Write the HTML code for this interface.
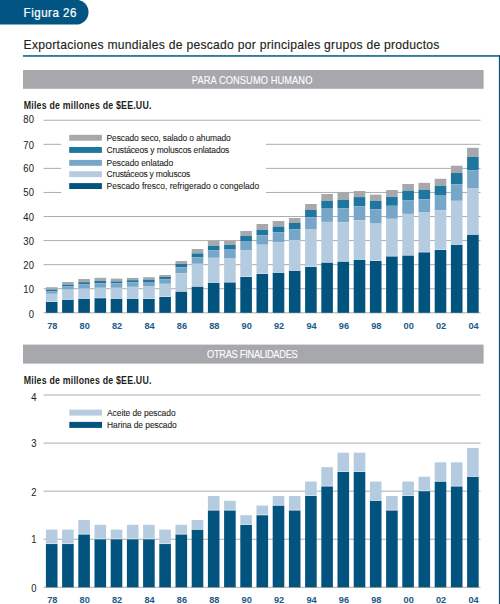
<!DOCTYPE html>
<html><head><meta charset="utf-8"><style>
html,body{margin:0;padding:0;background:#fff;width:500px;height:604px;overflow:hidden}
svg{display:block;font-family:"Liberation Sans",sans-serif}
</style></head><body>
<svg width="500" height="604" viewBox="0 0 500 604">
<rect x="-20" y="-0.3" width="108.5" height="24.9" rx="12.45" ry="12.45" fill="#025583"/>
<text transform="translate(23.6,16.6) scale(0.9,1)" x="0" y="0" font-size="12.8" fill="#ffffff" text-anchor="start" font-weight="normal" textLength="58.67" lengthAdjust="spacing" stroke="#ffffff" stroke-width="0.25">Figura 26</text>
<text transform="translate(23.6,49.4) scale(0.95,1)" x="0" y="0" font-size="12.8" fill="#231f20" text-anchor="start" font-weight="normal" textLength="437.68" lengthAdjust="spacing" stroke="#231f20" stroke-width="0.15">Exportaciones mundiales de pescado por principales grupos de productos</text>
<rect x="23.00" y="55.10" width="477.00" height="1.70" fill="#226a98"/>
<rect x="498.90" y="55.10" width="1.20" height="549.00" fill="#00507f"/>
<rect x="23.00" y="70.00" width="460.60" height="18.80" fill="#a6a8ab"/>
<text transform="translate(191.8,83.6) scale(0.93,1)" x="0" y="0" font-size="10" fill="#ffffff" text-anchor="start" font-weight="normal" textLength="129.68" lengthAdjust="spacing" stroke="#ffffff" stroke-width="0.1">PARA CONSUMO HUMANO</text>
<rect x="23.00" y="344.60" width="460.60" height="19.00" fill="#a6a8ab"/>
<text transform="translate(207.0,358.0) scale(0.93,1)" x="0" y="0" font-size="10" fill="#ffffff" text-anchor="start" font-weight="normal" textLength="97.63" lengthAdjust="spacing" stroke="#ffffff" stroke-width="0.1">OTRAS FINALIDADES</text>
<text transform="translate(23.8,109.2) scale(0.88,1)" x="0" y="0" font-size="10" fill="#231f20" text-anchor="start" font-weight="bold" textLength="145.00" lengthAdjust="spacing">Miles de millones de $EE.UU.</text>
<text transform="translate(23.8,383.8) scale(0.88,1)" x="0" y="0" font-size="10" fill="#231f20" text-anchor="start" font-weight="bold" textLength="145.00" lengthAdjust="spacing">Miles de millones de $EE.UU.</text>
<rect x="43.50" y="312.30" width="437.00" height="1.00" fill="#adadad"/>
<text transform="translate(33.9,317.70) scale(0.93,1)" font-size="10.2" fill="#231f20" text-anchor="end" stroke="#231f20" stroke-width="0.05">0</text>
<rect x="43.50" y="288.23" width="437.00" height="1.00" fill="#adadad"/>
<text transform="translate(33.9,292.85) scale(0.93,1)" font-size="10.2" fill="#231f20" text-anchor="end" stroke="#231f20" stroke-width="0.05">10</text>
<rect x="43.50" y="264.16" width="437.00" height="1.00" fill="#adadad"/>
<text transform="translate(33.9,269.00) scale(0.93,1)" font-size="10.2" fill="#231f20" text-anchor="end" stroke="#231f20" stroke-width="0.05">20</text>
<rect x="43.50" y="240.09" width="437.00" height="1.00" fill="#adadad"/>
<text transform="translate(33.9,244.90) scale(0.93,1)" font-size="10.2" fill="#231f20" text-anchor="end" stroke="#231f20" stroke-width="0.05">30</text>
<rect x="43.50" y="216.02" width="437.00" height="1.00" fill="#adadad"/>
<text transform="translate(33.9,221.10) scale(0.93,1)" font-size="10.2" fill="#231f20" text-anchor="end" stroke="#231f20" stroke-width="0.05">40</text>
<rect x="43.50" y="191.95" width="17.70" height="1.00" fill="#adadad"/>
<rect x="266.00" y="191.95" width="214.50" height="1.00" fill="#adadad"/>
<text transform="translate(33.9,195.80) scale(0.93,1)" font-size="10.2" fill="#231f20" text-anchor="end" stroke="#231f20" stroke-width="0.05">50</text>
<rect x="43.50" y="167.88" width="17.70" height="1.00" fill="#adadad"/>
<rect x="266.00" y="167.88" width="214.50" height="1.00" fill="#adadad"/>
<text transform="translate(33.9,172.40) scale(0.93,1)" font-size="10.2" fill="#231f20" text-anchor="end" stroke="#231f20" stroke-width="0.05">60</text>
<rect x="43.50" y="143.81" width="17.70" height="1.00" fill="#adadad"/>
<rect x="266.00" y="143.81" width="214.50" height="1.00" fill="#adadad"/>
<text transform="translate(33.9,148.80) scale(0.93,1)" font-size="10.2" fill="#231f20" text-anchor="end" stroke="#231f20" stroke-width="0.05">70</text>
<rect x="43.50" y="119.74" width="437.00" height="1.00" fill="#adadad"/>
<text transform="translate(33.9,123.00) scale(0.93,1)" font-size="10.2" fill="#231f20" text-anchor="end" stroke="#231f20" stroke-width="0.05">80</text>
<rect x="43.50" y="586.80" width="437.00" height="1.00" fill="#adadad"/>
<text transform="translate(36.6,592.30) scale(0.93,1)" font-size="10.2" fill="#231f20" text-anchor="end" stroke="#231f20" stroke-width="0.05">0</text>
<rect x="43.50" y="538.73" width="437.00" height="1.00" fill="#adadad"/>
<text transform="translate(36.6,543.10) scale(0.93,1)" font-size="10.2" fill="#231f20" text-anchor="end" stroke="#231f20" stroke-width="0.05">1</text>
<rect x="43.50" y="490.66" width="437.00" height="1.00" fill="#adadad"/>
<text transform="translate(36.6,495.70) scale(0.93,1)" font-size="10.2" fill="#231f20" text-anchor="end" stroke="#231f20" stroke-width="0.05">2</text>
<rect x="43.50" y="442.59" width="437.00" height="1.00" fill="#adadad"/>
<text transform="translate(36.6,447.30) scale(0.93,1)" font-size="10.2" fill="#231f20" text-anchor="end" stroke="#231f20" stroke-width="0.05">3</text>
<rect x="43.50" y="394.52" width="437.00" height="1.00" fill="#adadad"/>
<text transform="translate(36.6,400.60) scale(0.93,1)" font-size="10.2" fill="#231f20" text-anchor="end" stroke="#231f20" stroke-width="0.05">4</text>
<rect x="45.90" y="287.20" width="11.60" height="2.40" fill="#a7a8ab"/>
<rect x="45.90" y="289.60" width="11.60" height="1.80" fill="#1f779f"/>
<rect x="45.90" y="291.40" width="11.60" height="2.40" fill="#78a6c8"/>
<rect x="45.90" y="293.80" width="11.60" height="8.20" fill="#b5cbe0"/>
<rect x="45.90" y="302.00" width="11.60" height="10.80" fill="#03537f"/>
<rect x="45.90" y="301.40" width="11.60" height="0.6" fill="#ffffff" fill-opacity="0.5"/>
<text transform="translate(52.30,329.0) scale(0.93,1)" font-size="9.9" fill="#1a5a8a" text-anchor="middle" font-weight="bold">78</text>
<rect x="62.10" y="282.00" width="11.60" height="2.60" fill="#a7a8ab"/>
<rect x="62.10" y="284.60" width="11.60" height="1.80" fill="#1f779f"/>
<rect x="62.10" y="286.40" width="11.60" height="3.20" fill="#78a6c8"/>
<rect x="62.10" y="289.60" width="11.60" height="10.20" fill="#b5cbe0"/>
<rect x="62.10" y="299.80" width="11.60" height="13.00" fill="#03537f"/>
<rect x="62.10" y="299.20" width="11.60" height="0.6" fill="#ffffff" fill-opacity="0.5"/>
<rect x="78.30" y="279.00" width="11.60" height="3.20" fill="#a7a8ab"/>
<rect x="78.30" y="282.20" width="11.60" height="2.10" fill="#1f779f"/>
<rect x="78.30" y="284.30" width="11.60" height="4.30" fill="#78a6c8"/>
<rect x="78.30" y="288.60" width="11.60" height="10.20" fill="#b5cbe0"/>
<rect x="78.30" y="298.80" width="11.60" height="14.00" fill="#03537f"/>
<rect x="78.30" y="298.20" width="11.60" height="0.6" fill="#ffffff" fill-opacity="0.5"/>
<text transform="translate(84.70,329.0) scale(0.93,1)" font-size="9.9" fill="#1a5a8a" text-anchor="middle" font-weight="bold">80</text>
<rect x="94.50" y="277.80" width="11.60" height="3.00" fill="#a7a8ab"/>
<rect x="94.50" y="280.80" width="11.60" height="2.40" fill="#1f779f"/>
<rect x="94.50" y="283.20" width="11.60" height="4.60" fill="#78a6c8"/>
<rect x="94.50" y="287.80" width="11.60" height="10.40" fill="#b5cbe0"/>
<rect x="94.50" y="298.20" width="11.60" height="14.60" fill="#03537f"/>
<rect x="94.50" y="297.60" width="11.60" height="0.6" fill="#ffffff" fill-opacity="0.5"/>
<rect x="110.70" y="278.60" width="11.60" height="2.80" fill="#a7a8ab"/>
<rect x="110.70" y="281.40" width="11.60" height="2.00" fill="#1f779f"/>
<rect x="110.70" y="283.40" width="11.60" height="4.40" fill="#78a6c8"/>
<rect x="110.70" y="287.80" width="11.60" height="11.00" fill="#b5cbe0"/>
<rect x="110.70" y="298.80" width="11.60" height="14.00" fill="#03537f"/>
<rect x="110.70" y="298.20" width="11.60" height="0.6" fill="#ffffff" fill-opacity="0.5"/>
<text transform="translate(117.10,329.0) scale(0.93,1)" font-size="9.9" fill="#1a5a8a" text-anchor="middle" font-weight="bold">82</text>
<rect x="126.90" y="277.90" width="11.60" height="2.30" fill="#a7a8ab"/>
<rect x="126.90" y="280.20" width="11.60" height="2.20" fill="#1f779f"/>
<rect x="126.90" y="282.40" width="11.60" height="4.40" fill="#78a6c8"/>
<rect x="126.90" y="286.80" width="11.60" height="12.00" fill="#b5cbe0"/>
<rect x="126.90" y="298.80" width="11.60" height="14.00" fill="#03537f"/>
<rect x="126.90" y="298.20" width="11.60" height="0.6" fill="#ffffff" fill-opacity="0.5"/>
<rect x="143.10" y="277.20" width="11.60" height="2.40" fill="#a7a8ab"/>
<rect x="143.10" y="279.60" width="11.60" height="2.40" fill="#1f779f"/>
<rect x="143.10" y="282.00" width="11.60" height="4.00" fill="#78a6c8"/>
<rect x="143.10" y="286.00" width="11.60" height="13.00" fill="#b5cbe0"/>
<rect x="143.10" y="299.00" width="11.60" height="13.80" fill="#03537f"/>
<rect x="143.10" y="298.40" width="11.60" height="0.6" fill="#ffffff" fill-opacity="0.5"/>
<text transform="translate(149.50,329.0) scale(0.93,1)" font-size="9.9" fill="#1a5a8a" text-anchor="middle" font-weight="bold">84</text>
<rect x="159.30" y="275.00" width="11.60" height="2.00" fill="#a7a8ab"/>
<rect x="159.30" y="277.00" width="11.60" height="2.40" fill="#1f779f"/>
<rect x="159.30" y="279.40" width="11.60" height="4.40" fill="#78a6c8"/>
<rect x="159.30" y="283.80" width="11.60" height="13.20" fill="#b5cbe0"/>
<rect x="159.30" y="297.00" width="11.60" height="15.80" fill="#03537f"/>
<rect x="159.30" y="296.40" width="11.60" height="0.6" fill="#ffffff" fill-opacity="0.5"/>
<rect x="175.50" y="261.00" width="11.60" height="3.00" fill="#a7a8ab"/>
<rect x="175.50" y="264.00" width="11.60" height="3.40" fill="#1f779f"/>
<rect x="175.50" y="267.40" width="11.60" height="5.80" fill="#78a6c8"/>
<rect x="175.50" y="273.20" width="11.60" height="18.40" fill="#b5cbe0"/>
<rect x="175.50" y="291.60" width="11.60" height="21.20" fill="#03537f"/>
<rect x="175.50" y="291.00" width="11.60" height="0.6" fill="#ffffff" fill-opacity="0.5"/>
<text transform="translate(181.90,329.0) scale(0.93,1)" font-size="9.9" fill="#1a5a8a" text-anchor="middle" font-weight="bold">86</text>
<rect x="191.70" y="249.00" width="11.60" height="4.40" fill="#a7a8ab"/>
<rect x="191.70" y="253.40" width="11.60" height="4.00" fill="#1f779f"/>
<rect x="191.70" y="257.40" width="11.60" height="6.40" fill="#78a6c8"/>
<rect x="191.70" y="263.80" width="11.60" height="22.80" fill="#b5cbe0"/>
<rect x="191.70" y="286.60" width="11.60" height="26.20" fill="#03537f"/>
<rect x="191.70" y="286.00" width="11.60" height="0.6" fill="#ffffff" fill-opacity="0.5"/>
<rect x="207.90" y="240.80" width="11.60" height="5.00" fill="#a7a8ab"/>
<rect x="207.90" y="245.80" width="11.60" height="4.40" fill="#1f779f"/>
<rect x="207.90" y="250.20" width="11.60" height="7.60" fill="#78a6c8"/>
<rect x="207.90" y="257.80" width="11.60" height="25.00" fill="#b5cbe0"/>
<rect x="207.90" y="282.80" width="11.60" height="30.00" fill="#03537f"/>
<rect x="207.90" y="282.20" width="11.60" height="0.6" fill="#ffffff" fill-opacity="0.5"/>
<text transform="translate(214.30,329.0) scale(0.93,1)" font-size="9.9" fill="#1a5a8a" text-anchor="middle" font-weight="bold">88</text>
<rect x="224.10" y="240.80" width="11.60" height="4.20" fill="#a7a8ab"/>
<rect x="224.10" y="245.00" width="11.60" height="4.60" fill="#1f779f"/>
<rect x="224.10" y="249.60" width="11.60" height="8.40" fill="#78a6c8"/>
<rect x="224.10" y="258.00" width="11.60" height="24.40" fill="#b5cbe0"/>
<rect x="224.10" y="282.40" width="11.60" height="30.40" fill="#03537f"/>
<rect x="224.10" y="281.80" width="11.60" height="0.6" fill="#ffffff" fill-opacity="0.5"/>
<rect x="240.30" y="231.00" width="11.60" height="4.80" fill="#a7a8ab"/>
<rect x="240.30" y="235.80" width="11.60" height="5.20" fill="#1f779f"/>
<rect x="240.30" y="241.00" width="11.60" height="9.10" fill="#78a6c8"/>
<rect x="240.30" y="250.10" width="11.60" height="26.90" fill="#b5cbe0"/>
<rect x="240.30" y="277.00" width="11.60" height="35.80" fill="#03537f"/>
<rect x="240.30" y="276.40" width="11.60" height="0.6" fill="#ffffff" fill-opacity="0.5"/>
<text transform="translate(246.70,329.0) scale(0.93,1)" font-size="9.9" fill="#1a5a8a" text-anchor="middle" font-weight="bold">90</text>
<rect x="256.50" y="224.00" width="11.60" height="5.80" fill="#a7a8ab"/>
<rect x="256.50" y="229.80" width="11.60" height="5.40" fill="#1f779f"/>
<rect x="256.50" y="235.20" width="11.60" height="9.50" fill="#78a6c8"/>
<rect x="256.50" y="244.70" width="11.60" height="29.30" fill="#b5cbe0"/>
<rect x="256.50" y="274.00" width="11.60" height="38.80" fill="#03537f"/>
<rect x="256.50" y="273.40" width="11.60" height="0.6" fill="#ffffff" fill-opacity="0.5"/>
<rect x="272.70" y="221.00" width="11.60" height="5.60" fill="#a7a8ab"/>
<rect x="272.70" y="226.60" width="11.60" height="5.60" fill="#1f779f"/>
<rect x="272.70" y="232.20" width="11.60" height="10.10" fill="#78a6c8"/>
<rect x="272.70" y="242.30" width="11.60" height="30.50" fill="#b5cbe0"/>
<rect x="272.70" y="272.80" width="11.60" height="40.00" fill="#03537f"/>
<rect x="272.70" y="272.20" width="11.60" height="0.6" fill="#ffffff" fill-opacity="0.5"/>
<text transform="translate(279.10,329.0) scale(0.93,1)" font-size="9.9" fill="#1a5a8a" text-anchor="middle" font-weight="bold">92</text>
<rect x="288.90" y="218.00" width="11.60" height="5.00" fill="#a7a8ab"/>
<rect x="288.90" y="223.00" width="11.60" height="6.20" fill="#1f779f"/>
<rect x="288.90" y="229.20" width="11.60" height="10.80" fill="#78a6c8"/>
<rect x="288.90" y="240.00" width="11.60" height="30.80" fill="#b5cbe0"/>
<rect x="288.90" y="270.80" width="11.60" height="42.00" fill="#03537f"/>
<rect x="288.90" y="270.20" width="11.60" height="0.6" fill="#ffffff" fill-opacity="0.5"/>
<rect x="305.10" y="204.00" width="11.60" height="6.00" fill="#a7a8ab"/>
<rect x="305.10" y="210.00" width="11.60" height="7.20" fill="#1f779f"/>
<rect x="305.10" y="217.20" width="11.60" height="11.80" fill="#78a6c8"/>
<rect x="305.10" y="229.00" width="11.60" height="38.00" fill="#b5cbe0"/>
<rect x="305.10" y="267.00" width="11.60" height="45.80" fill="#03537f"/>
<rect x="305.10" y="266.40" width="11.60" height="0.6" fill="#ffffff" fill-opacity="0.5"/>
<text transform="translate(311.50,329.0) scale(0.93,1)" font-size="9.9" fill="#1a5a8a" text-anchor="middle" font-weight="bold">94</text>
<rect x="321.30" y="194.00" width="11.60" height="6.80" fill="#a7a8ab"/>
<rect x="321.30" y="200.80" width="11.60" height="7.80" fill="#1f779f"/>
<rect x="321.30" y="208.60" width="11.60" height="13.30" fill="#78a6c8"/>
<rect x="321.30" y="221.90" width="11.60" height="40.70" fill="#b5cbe0"/>
<rect x="321.30" y="262.60" width="11.60" height="50.20" fill="#03537f"/>
<rect x="321.30" y="262.00" width="11.60" height="0.6" fill="#ffffff" fill-opacity="0.5"/>
<rect x="337.50" y="192.40" width="11.60" height="7.40" fill="#a7a8ab"/>
<rect x="337.50" y="199.80" width="11.60" height="8.40" fill="#1f779f"/>
<rect x="337.50" y="208.20" width="11.60" height="14.00" fill="#78a6c8"/>
<rect x="337.50" y="222.20" width="11.60" height="39.40" fill="#b5cbe0"/>
<rect x="337.50" y="261.60" width="11.60" height="51.20" fill="#03537f"/>
<rect x="337.50" y="261.00" width="11.60" height="0.6" fill="#ffffff" fill-opacity="0.5"/>
<text transform="translate(343.90,329.0) scale(0.93,1)" font-size="9.9" fill="#1a5a8a" text-anchor="middle" font-weight="bold">96</text>
<rect x="353.70" y="191.00" width="11.60" height="6.10" fill="#a7a8ab"/>
<rect x="353.70" y="197.10" width="11.60" height="9.20" fill="#1f779f"/>
<rect x="353.70" y="206.30" width="11.60" height="14.00" fill="#78a6c8"/>
<rect x="353.70" y="220.30" width="11.60" height="39.50" fill="#b5cbe0"/>
<rect x="353.70" y="259.80" width="11.60" height="53.00" fill="#03537f"/>
<rect x="353.70" y="259.20" width="11.60" height="0.6" fill="#ffffff" fill-opacity="0.5"/>
<rect x="369.90" y="194.60" width="11.60" height="6.40" fill="#a7a8ab"/>
<rect x="369.90" y="201.00" width="11.60" height="8.40" fill="#1f779f"/>
<rect x="369.90" y="209.40" width="11.60" height="14.20" fill="#78a6c8"/>
<rect x="369.90" y="223.60" width="11.60" height="37.40" fill="#b5cbe0"/>
<rect x="369.90" y="261.00" width="11.60" height="51.80" fill="#03537f"/>
<rect x="369.90" y="260.40" width="11.60" height="0.6" fill="#ffffff" fill-opacity="0.5"/>
<text transform="translate(376.30,329.0) scale(0.93,1)" font-size="9.9" fill="#1a5a8a" text-anchor="middle" font-weight="bold">98</text>
<rect x="386.10" y="190.00" width="11.60" height="7.00" fill="#a7a8ab"/>
<rect x="386.10" y="197.00" width="11.60" height="8.80" fill="#1f779f"/>
<rect x="386.10" y="205.80" width="11.60" height="13.00" fill="#78a6c8"/>
<rect x="386.10" y="218.80" width="11.60" height="37.60" fill="#b5cbe0"/>
<rect x="386.10" y="256.40" width="11.60" height="56.40" fill="#03537f"/>
<rect x="386.10" y="255.80" width="11.60" height="0.6" fill="#ffffff" fill-opacity="0.5"/>
<rect x="402.30" y="184.00" width="11.60" height="6.70" fill="#a7a8ab"/>
<rect x="402.30" y="190.70" width="11.60" height="9.80" fill="#1f779f"/>
<rect x="402.30" y="200.50" width="11.60" height="13.40" fill="#78a6c8"/>
<rect x="402.30" y="213.90" width="11.60" height="41.60" fill="#b5cbe0"/>
<rect x="402.30" y="255.50" width="11.60" height="57.30" fill="#03537f"/>
<rect x="402.30" y="254.90" width="11.60" height="0.6" fill="#ffffff" fill-opacity="0.5"/>
<text transform="translate(408.70,329.0) scale(0.93,1)" font-size="9.9" fill="#1a5a8a" text-anchor="middle" font-weight="bold">00</text>
<rect x="418.50" y="182.80" width="11.60" height="7.00" fill="#a7a8ab"/>
<rect x="418.50" y="189.80" width="11.60" height="9.40" fill="#1f779f"/>
<rect x="418.50" y="199.20" width="11.60" height="13.30" fill="#78a6c8"/>
<rect x="418.50" y="212.50" width="11.60" height="39.80" fill="#b5cbe0"/>
<rect x="418.50" y="252.30" width="11.60" height="60.50" fill="#03537f"/>
<rect x="418.50" y="251.70" width="11.60" height="0.6" fill="#ffffff" fill-opacity="0.5"/>
<rect x="434.70" y="178.80" width="11.60" height="7.00" fill="#a7a8ab"/>
<rect x="434.70" y="185.80" width="11.60" height="9.80" fill="#1f779f"/>
<rect x="434.70" y="195.60" width="11.60" height="14.70" fill="#78a6c8"/>
<rect x="434.70" y="210.30" width="11.60" height="39.70" fill="#b5cbe0"/>
<rect x="434.70" y="250.00" width="11.60" height="62.80" fill="#03537f"/>
<rect x="434.70" y="249.40" width="11.60" height="0.6" fill="#ffffff" fill-opacity="0.5"/>
<text transform="translate(441.10,329.0) scale(0.93,1)" font-size="9.9" fill="#1a5a8a" text-anchor="middle" font-weight="bold">02</text>
<rect x="450.90" y="165.70" width="11.60" height="7.30" fill="#a7a8ab"/>
<rect x="450.90" y="173.00" width="11.60" height="11.40" fill="#1f779f"/>
<rect x="450.90" y="184.40" width="11.60" height="16.40" fill="#78a6c8"/>
<rect x="450.90" y="200.80" width="11.60" height="44.00" fill="#b5cbe0"/>
<rect x="450.90" y="244.80" width="11.60" height="68.00" fill="#03537f"/>
<rect x="450.90" y="244.20" width="11.60" height="0.6" fill="#ffffff" fill-opacity="0.5"/>
<rect x="467.10" y="147.80" width="11.60" height="9.20" fill="#a7a8ab"/>
<rect x="467.10" y="157.00" width="11.60" height="13.20" fill="#1f779f"/>
<rect x="467.10" y="170.20" width="11.60" height="17.80" fill="#78a6c8"/>
<rect x="467.10" y="188.00" width="11.60" height="46.70" fill="#b5cbe0"/>
<rect x="467.10" y="234.70" width="11.60" height="78.10" fill="#03537f"/>
<rect x="467.10" y="234.10" width="11.60" height="0.6" fill="#ffffff" fill-opacity="0.5"/>
<text transform="translate(473.50,329.0) scale(0.93,1)" font-size="9.9" fill="#1a5a8a" text-anchor="middle" font-weight="bold">04</text>
<rect x="45.90" y="529.62" width="11.60" height="14.42" fill="#b5cbe0"/>
<rect x="45.90" y="544.04" width="11.60" height="43.26" fill="#03537f"/>
<rect x="45.90" y="543.34" width="11.60" height="0.7" fill="#ffffff" fill-opacity="0.6"/>
<text transform="translate(52.30,603.4) scale(0.93,1)" font-size="9.9" fill="#1a5a8a" text-anchor="middle" font-weight="bold">78</text>
<rect x="62.10" y="529.62" width="11.60" height="14.42" fill="#b5cbe0"/>
<rect x="62.10" y="544.04" width="11.60" height="43.26" fill="#03537f"/>
<rect x="62.10" y="543.34" width="11.60" height="0.7" fill="#ffffff" fill-opacity="0.6"/>
<rect x="78.30" y="520.00" width="11.60" height="14.42" fill="#b5cbe0"/>
<rect x="78.30" y="534.42" width="11.60" height="52.88" fill="#03537f"/>
<rect x="78.30" y="533.72" width="11.60" height="0.7" fill="#ffffff" fill-opacity="0.6"/>
<text transform="translate(84.70,603.4) scale(0.93,1)" font-size="9.9" fill="#1a5a8a" text-anchor="middle" font-weight="bold">80</text>
<rect x="94.50" y="524.81" width="11.60" height="14.42" fill="#b5cbe0"/>
<rect x="94.50" y="539.23" width="11.60" height="48.07" fill="#03537f"/>
<rect x="94.50" y="538.53" width="11.60" height="0.7" fill="#ffffff" fill-opacity="0.6"/>
<rect x="110.70" y="529.62" width="11.60" height="9.61" fill="#b5cbe0"/>
<rect x="110.70" y="539.23" width="11.60" height="48.07" fill="#03537f"/>
<rect x="110.70" y="538.53" width="11.60" height="0.7" fill="#ffffff" fill-opacity="0.6"/>
<text transform="translate(117.10,603.4) scale(0.93,1)" font-size="9.9" fill="#1a5a8a" text-anchor="middle" font-weight="bold">82</text>
<rect x="126.90" y="524.81" width="11.60" height="14.42" fill="#b5cbe0"/>
<rect x="126.90" y="539.23" width="11.60" height="48.07" fill="#03537f"/>
<rect x="126.90" y="538.53" width="11.60" height="0.7" fill="#ffffff" fill-opacity="0.6"/>
<rect x="143.10" y="524.81" width="11.60" height="14.42" fill="#b5cbe0"/>
<rect x="143.10" y="539.23" width="11.60" height="48.07" fill="#03537f"/>
<rect x="143.10" y="538.53" width="11.60" height="0.7" fill="#ffffff" fill-opacity="0.6"/>
<text transform="translate(149.50,603.4) scale(0.93,1)" font-size="9.9" fill="#1a5a8a" text-anchor="middle" font-weight="bold">84</text>
<rect x="159.30" y="529.62" width="11.60" height="14.42" fill="#b5cbe0"/>
<rect x="159.30" y="544.04" width="11.60" height="43.26" fill="#03537f"/>
<rect x="159.30" y="543.34" width="11.60" height="0.7" fill="#ffffff" fill-opacity="0.6"/>
<rect x="175.50" y="524.81" width="11.60" height="9.61" fill="#b5cbe0"/>
<rect x="175.50" y="534.42" width="11.60" height="52.88" fill="#03537f"/>
<rect x="175.50" y="533.72" width="11.60" height="0.7" fill="#ffffff" fill-opacity="0.6"/>
<text transform="translate(181.90,603.4) scale(0.93,1)" font-size="9.9" fill="#1a5a8a" text-anchor="middle" font-weight="bold">86</text>
<rect x="191.70" y="520.00" width="11.60" height="9.61" fill="#b5cbe0"/>
<rect x="191.70" y="529.62" width="11.60" height="57.68" fill="#03537f"/>
<rect x="191.70" y="528.92" width="11.60" height="0.7" fill="#ffffff" fill-opacity="0.6"/>
<rect x="207.90" y="495.97" width="11.60" height="14.42" fill="#b5cbe0"/>
<rect x="207.90" y="510.39" width="11.60" height="76.91" fill="#03537f"/>
<rect x="207.90" y="509.69" width="11.60" height="0.7" fill="#ffffff" fill-opacity="0.6"/>
<text transform="translate(214.30,603.4) scale(0.93,1)" font-size="9.9" fill="#1a5a8a" text-anchor="middle" font-weight="bold">88</text>
<rect x="224.10" y="500.77" width="11.60" height="9.61" fill="#b5cbe0"/>
<rect x="224.10" y="510.39" width="11.60" height="76.91" fill="#03537f"/>
<rect x="224.10" y="509.69" width="11.60" height="0.7" fill="#ffffff" fill-opacity="0.6"/>
<rect x="240.30" y="515.19" width="11.60" height="9.61" fill="#b5cbe0"/>
<rect x="240.30" y="524.81" width="11.60" height="62.49" fill="#03537f"/>
<rect x="240.30" y="524.11" width="11.60" height="0.7" fill="#ffffff" fill-opacity="0.6"/>
<text transform="translate(246.70,603.4) scale(0.93,1)" font-size="9.9" fill="#1a5a8a" text-anchor="middle" font-weight="bold">90</text>
<rect x="256.50" y="505.58" width="11.60" height="9.61" fill="#b5cbe0"/>
<rect x="256.50" y="515.19" width="11.60" height="72.11" fill="#03537f"/>
<rect x="256.50" y="514.49" width="11.60" height="0.7" fill="#ffffff" fill-opacity="0.6"/>
<rect x="272.70" y="495.97" width="11.60" height="9.61" fill="#b5cbe0"/>
<rect x="272.70" y="505.58" width="11.60" height="81.72" fill="#03537f"/>
<rect x="272.70" y="504.88" width="11.60" height="0.7" fill="#ffffff" fill-opacity="0.6"/>
<text transform="translate(279.10,603.4) scale(0.93,1)" font-size="9.9" fill="#1a5a8a" text-anchor="middle" font-weight="bold">92</text>
<rect x="288.90" y="495.97" width="11.60" height="14.42" fill="#b5cbe0"/>
<rect x="288.90" y="510.39" width="11.60" height="76.91" fill="#03537f"/>
<rect x="288.90" y="509.69" width="11.60" height="0.7" fill="#ffffff" fill-opacity="0.6"/>
<rect x="305.10" y="481.55" width="11.60" height="14.42" fill="#b5cbe0"/>
<rect x="305.10" y="495.97" width="11.60" height="91.33" fill="#03537f"/>
<rect x="305.10" y="495.27" width="11.60" height="0.7" fill="#ffffff" fill-opacity="0.6"/>
<text transform="translate(311.50,603.4) scale(0.93,1)" font-size="9.9" fill="#1a5a8a" text-anchor="middle" font-weight="bold">94</text>
<rect x="321.30" y="467.12" width="11.60" height="19.23" fill="#b5cbe0"/>
<rect x="321.30" y="486.35" width="11.60" height="100.95" fill="#03537f"/>
<rect x="321.30" y="485.65" width="11.60" height="0.7" fill="#ffffff" fill-opacity="0.6"/>
<rect x="337.50" y="452.70" width="11.60" height="19.23" fill="#b5cbe0"/>
<rect x="337.50" y="471.93" width="11.60" height="115.37" fill="#03537f"/>
<rect x="337.50" y="471.23" width="11.60" height="0.7" fill="#ffffff" fill-opacity="0.6"/>
<text transform="translate(343.90,603.4) scale(0.93,1)" font-size="9.9" fill="#1a5a8a" text-anchor="middle" font-weight="bold">96</text>
<rect x="353.70" y="452.70" width="11.60" height="19.23" fill="#b5cbe0"/>
<rect x="353.70" y="471.93" width="11.60" height="115.37" fill="#03537f"/>
<rect x="353.70" y="471.23" width="11.60" height="0.7" fill="#ffffff" fill-opacity="0.6"/>
<rect x="369.90" y="481.55" width="11.60" height="19.23" fill="#b5cbe0"/>
<rect x="369.90" y="500.77" width="11.60" height="86.53" fill="#03537f"/>
<rect x="369.90" y="500.07" width="11.60" height="0.7" fill="#ffffff" fill-opacity="0.6"/>
<text transform="translate(376.30,603.4) scale(0.93,1)" font-size="9.9" fill="#1a5a8a" text-anchor="middle" font-weight="bold">98</text>
<rect x="386.10" y="495.97" width="11.60" height="14.42" fill="#b5cbe0"/>
<rect x="386.10" y="510.39" width="11.60" height="76.91" fill="#03537f"/>
<rect x="386.10" y="509.69" width="11.60" height="0.7" fill="#ffffff" fill-opacity="0.6"/>
<rect x="402.30" y="481.55" width="11.60" height="14.42" fill="#b5cbe0"/>
<rect x="402.30" y="495.97" width="11.60" height="91.33" fill="#03537f"/>
<rect x="402.30" y="495.27" width="11.60" height="0.7" fill="#ffffff" fill-opacity="0.6"/>
<text transform="translate(408.70,603.4) scale(0.93,1)" font-size="9.9" fill="#1a5a8a" text-anchor="middle" font-weight="bold">00</text>
<rect x="418.50" y="476.74" width="11.60" height="14.42" fill="#b5cbe0"/>
<rect x="418.50" y="491.16" width="11.60" height="96.14" fill="#03537f"/>
<rect x="418.50" y="490.46" width="11.60" height="0.7" fill="#ffffff" fill-opacity="0.6"/>
<rect x="434.70" y="462.32" width="11.60" height="19.23" fill="#b5cbe0"/>
<rect x="434.70" y="481.55" width="11.60" height="105.75" fill="#03537f"/>
<rect x="434.70" y="480.85" width="11.60" height="0.7" fill="#ffffff" fill-opacity="0.6"/>
<text transform="translate(441.10,603.4) scale(0.93,1)" font-size="9.9" fill="#1a5a8a" text-anchor="middle" font-weight="bold">02</text>
<rect x="450.90" y="462.32" width="11.60" height="24.03" fill="#b5cbe0"/>
<rect x="450.90" y="486.35" width="11.60" height="100.95" fill="#03537f"/>
<rect x="450.90" y="485.65" width="11.60" height="0.7" fill="#ffffff" fill-opacity="0.6"/>
<rect x="467.10" y="447.90" width="11.60" height="28.84" fill="#b5cbe0"/>
<rect x="467.10" y="476.74" width="11.60" height="110.56" fill="#03537f"/>
<rect x="467.10" y="476.04" width="11.60" height="0.7" fill="#ffffff" fill-opacity="0.6"/>
<text transform="translate(473.50,603.4) scale(0.93,1)" font-size="9.9" fill="#1a5a8a" text-anchor="middle" font-weight="bold">04</text>
<rect x="69.20" y="134.80" width="32.70" height="5.90" fill="#a7a8ab"/>
<text transform="translate(106.6,140.7) scale(0.88,1)" x="0" y="0" font-size="9.6" fill="#231f20" text-anchor="start" font-weight="normal" textLength="141.14" lengthAdjust="spacing" stroke="#231f20" stroke-width="0.1">Pescado seco, salado o ahumado</text>
<rect x="69.20" y="147.00" width="32.70" height="5.90" fill="#1f779f"/>
<text transform="translate(106.6,152.9) scale(0.88,1)" x="0" y="0" font-size="9.6" fill="#231f20" text-anchor="start" font-weight="normal" textLength="139.43" lengthAdjust="spacing" stroke="#231f20" stroke-width="0.1">Crustáceos y moluscos enlatados</text>
<rect x="69.20" y="159.90" width="32.70" height="5.90" fill="#78a6c8"/>
<text transform="translate(106.6,165.8) scale(0.88,1)" x="0" y="0" font-size="9.6" fill="#231f20" text-anchor="start" font-weight="normal" textLength="75.57" lengthAdjust="spacing" stroke="#231f20" stroke-width="0.1">Pescado enlatado</text>
<rect x="69.20" y="171.20" width="32.70" height="5.90" fill="#b5cbe0"/>
<text transform="translate(106.6,177.1) scale(0.88,1)" x="0" y="0" font-size="9.6" fill="#231f20" text-anchor="start" font-weight="normal" textLength="95.00" lengthAdjust="spacing" stroke="#231f20" stroke-width="0.1">Crustáceos y moluscos</text>
<rect x="69.20" y="183.10" width="32.70" height="5.90" fill="#03537f"/>
<text transform="translate(106.6,189.0) scale(0.88,1)" x="0" y="0" font-size="9.6" fill="#231f20" text-anchor="start" font-weight="normal" textLength="173.41" lengthAdjust="spacing" stroke="#231f20" stroke-width="0.1">Pescado fresco, refrigerado o congelado</text>
<rect x="69.30" y="409.60" width="32.70" height="6.00" fill="#b5cbe0"/>
<text transform="translate(107.0,415.6) scale(0.88,1)" x="0" y="0" font-size="9.6" fill="#231f20" text-anchor="start" font-weight="normal" textLength="77.95" lengthAdjust="spacing" stroke="#231f20" stroke-width="0.1">Aceite de pescado</text>
<rect x="69.30" y="421.90" width="32.70" height="6.00" fill="#03537f"/>
<text transform="translate(107.0,427.9) scale(0.88,1)" x="0" y="0" font-size="9.6" fill="#231f20" text-anchor="start" font-weight="normal" textLength="79.32" lengthAdjust="spacing" stroke="#231f20" stroke-width="0.1">Harina de pescado</text>
</svg>
</body></html>
